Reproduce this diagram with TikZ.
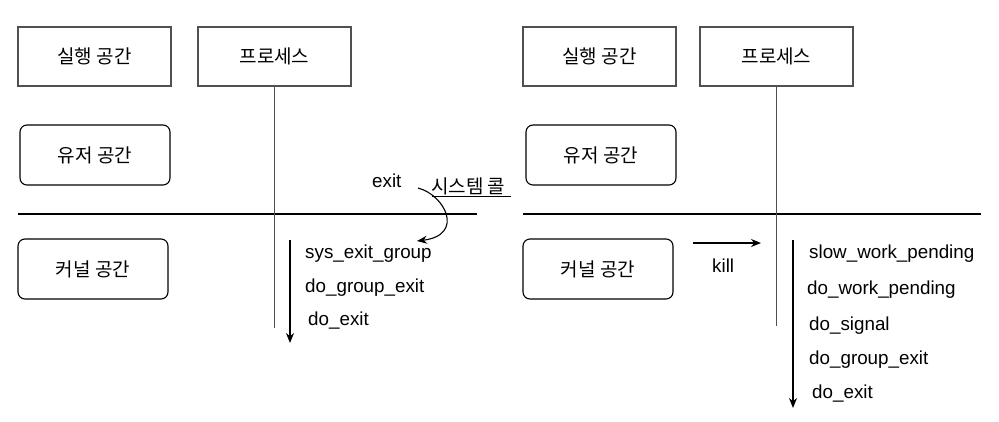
\documentclass[tikz,border=0pt]{standalone}
\usepackage{fontspec}
\setmainfont{Liberation Sans}
\newfontfamily\kr{Noto Sans CJK KR}
\usetikzlibrary{arrows.meta}
\definecolor{bordergray}{HTML}{505050}
\begin{document}
\begin{tikzpicture}[x=1pt,y=-1pt,
  sqbox/.style={draw=bordergray,line width=1.4pt,minimum width=153pt,minimum height=59pt,inner sep=0pt,font=\kr\fontsize{19}{22}\selectfont},
  rbox/.style={draw=black,line width=1.1pt,rounded corners=7pt,minimum width=150pt,minimum height=60pt,inner sep=0pt,font=\kr\fontsize{19}{22}\selectfont},
  lbl/.style={anchor=west,inner sep=0pt,font=\fontsize{18.8}{21}\selectfont},
  vline/.style={draw=bordergray,line width=1.8pt},
  hline/.style={draw=black,line width=2.8pt},
  arr/.style={draw=black,line width=1.4pt,-{Stealth[length=10pt,width=8pt]}}]
\useasboundingbox (0,0) rectangle (999,421);
% left side
\node[sqbox] (lexec) at (94.5,56.5) {실행 공간};
\node[sqbox] (lproc) at (274.5,56.5) {프로세스};
\node[rbox] (luser) at (95,155) {유저 공간};
\node[rbox] (lkern) at (93,269) {커널 공간};
\coordinate (lsep1) at (18,214);
\coordinate (lsep2) at (477,214);
\draw[hline] (lsep1) -- (lsep2);
\coordinate (lvend) at (274.5,328);
\draw[vline] (lproc.south) -- (lvend);
\coordinate (ladown1) at (290,240);
\coordinate (ladown2) at (290,343);
\draw[arr] (ladown1) -- (ladown2);
\node[lbl] (l1) at (305,254) {sys\_exit\_group};
\node[lbl] (l2) at (305,288) {do\_group\_exit};
\node[lbl] (l3) at (308,321) {do\_exit};
\node[lbl] (exitlbl) at (372,181) {exit};
\node[anchor=west,inner sep=0pt,font=\kr\fontsize{19}{22}\selectfont] (syscall) at (431,186) {시스템 콜};
\coordinate (ul1) at (432,196);
\coordinate (ul2) at (511,196);
\draw[black,line width=0.9pt] (ul1) -- (ul2);
\coordinate (cstart) at (418,188);
\coordinate (cend) at (417,241);
\draw[arr,line width=1.1pt] (cstart) .. controls (445,195) and (465,235) .. (cend);
% right side
\node[sqbox] (rexec) at (599.5,56.5) {실행 공간};
\node[sqbox] (rproc) at (776.5,56.5) {프로세스};
\node[rbox] (ruser) at (601,155) {유저 공간};
\node[rbox] (rkern) at (598,269) {커널 공간};
\coordinate (rsep1) at (523,214);
\coordinate (rsep2) at (981,214);
\draw[hline] (rsep1) -- (rsep2);
\coordinate (rvend) at (776.5,326);
\draw[vline] (rproc.south) -- (rvend);
\coordinate (radown1) at (793,240);
\coordinate (radown2) at (793,408);
\draw[arr] (radown1) -- (radown2);
\coordinate (k1) at (693,243);
\coordinate (k2) at (761,243);
\draw[arr] (k1) -- (k2);
\node[lbl] (kill) at (712,266) {kill};
\node[lbl] (r1) at (809,254) {slow\_work\_pending};
\node[lbl] (r2) at (807,290) {do\_work\_pending};
\node[lbl] (r3) at (809,326) {do\_signal};
\node[lbl] (r4) at (809,360) {do\_group\_exit};
\node[lbl] (r5) at (812,394) {do\_exit};
\end{tikzpicture}
\end{document}
